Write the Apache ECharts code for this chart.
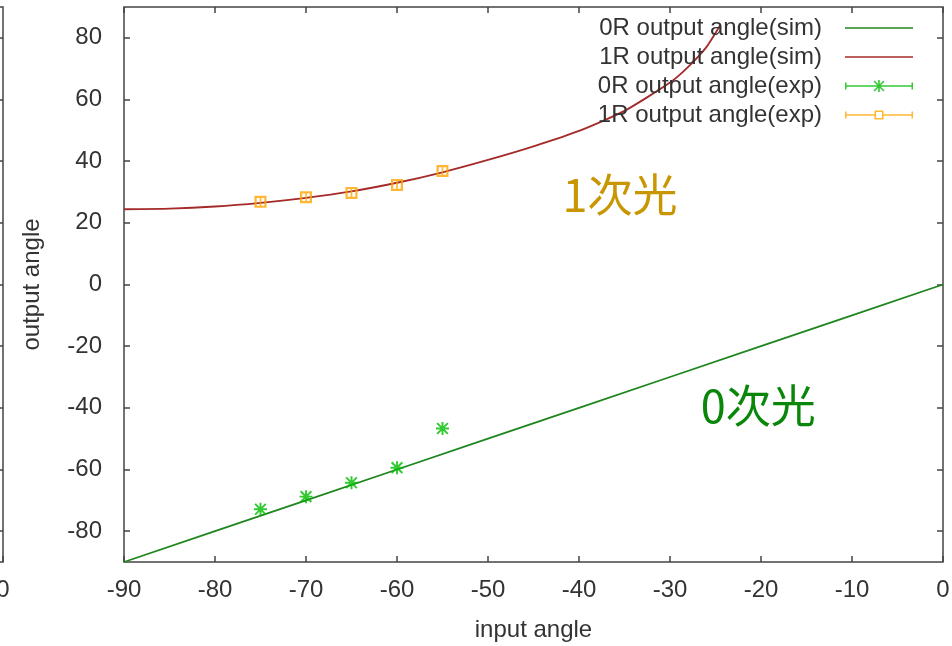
<!DOCTYPE html>
<html>
<head>
<meta charset="utf-8">
<script src="https://cdn.jsdelivr.net/npm/echarts@6/dist/echarts.min.js"></script>
<style>
  html, body { margin: 0; padding: 0; background: #ffffff; }
  #main { width: 952px; height: 646px; }
</style>
</head>
<body>
<div id="main"></div>
<script>
// Series names (legend order)
const seriesNames = [
  '0R output angle(sim)',
  '1R output angle(sim)',
  '0R output angle(exp)',
  '1R output angle(exp)'
];

// 0th-order reflection, simulated
const sim0X = [-90, -80, -70, -60, -50, -40, -30, -20, -10, 0];
const sim0Y = [-90, -80, -70, -60, -50, -40, -30, -20, -10, 0];

// 1st-order reflection, simulated
const sim1X = [-90, -85, -80, -75, -70, -65, -60, -55, -50, -45, -40, -35, -30, -28, -26, -24.5];
const sim1Y = [24.4, 24.6, 25.3, 26.5, 28.1, 30.2, 33.0, 36.4, 40.4, 44.8, 49.8, 56.3, 65.5, 70.6, 77.0, 84.0];

// Measured points
const expX  = [-75, -70, -65, -60, -55];
const exp0Y = [-72.9, -68.8, -64.3, -59.4, -46.7];
const exp1Y = [26.8, 28.3, 29.7, 32.3, 36.8];

// Axis ticks
const xTicks = [-90, -80, -70, -60, -50, -40, -30, -20, -10, 0];
const yTicks = [-80, -60, -40, -20, 0, 20, 40, 60, 80];

// Text annotations (data coordinates)
const annotations = [
  { text: '1次光', at: [-35.5, 28.9], color: '#c89600' },
  { text: '0次光', at: [-20.3, -39.3], color: '#0a870a' }
];

const colors = ['#1e861e', '#a52a2a', '#00bb00', '#ffa500'];
const FONT = '"Liberation Sans", Arial, sans-serif';
const FRAME = '#444444';

const pair = (xs, ys) => xs.map((x, i) => [x, ys[i]]);

// Marker shapes
const starPath = 'path://M5.1,0 H6.9 V12 H5.1 Z M0,5.1 H12 V6.9 H0 Z ' +
  'M0.4,1.7 L1.7,0.4 L11.6,10.3 L10.3,11.6 Z M10.3,0.4 L11.6,1.7 L1.7,11.6 L0.4,10.3 Z';
const boxPath = 'path://M0,0 H11 V11 H0 Z M2,2 V9 H9 V2 Z M4.75,2 H6.25 V9 H4.75 Z';

// Legend keys
const iconLine = 'path://M0,6.25 H68 V7.75 H0 Z';
const iconStarBar = 'path://M0,6.25 H68 V7.75 H0 Z M0,3.5 H1.5 V10.5 H0 Z M66.5,3.5 H68 V10.5 H66.5 Z ' +
  'M33.2,1 H34.8 V13 H33.2 Z M28,6.2 H40 V7.8 H28 Z ' +
  'M28.5,2.6 L29.6,1.5 L39.5,11.4 L38.4,12.5 Z M38.4,1.5 L39.5,2.6 L29.6,12.5 L28.5,11.4 Z';
const iconBoxBar = 'path://M0,6.25 H29.5 V7.75 H0 Z M38.5,6.25 H68 V7.75 H38.5 Z ' +
  'M0,3.5 H1.5 V10.5 H0 Z M66.5,3.5 H68 V10.5 H66.5 Z ' +
  'M29.5,2.5 H38.5 V11.5 H29.5 Z M31,4 V10 H37 V4 Z';

const labelStyle = { fontFamily: FONT, fontSize: 24, color: '#333333' };
const tickInside = { show: true, inside: true, length: 6, lineStyle: { color: FRAME, width: 1.5 } };
const noLine = { show: false, onZero: false };

const chart = echarts.init(document.getElementById('main'), null, { renderer: 'canvas' });

chart.setOption({
  animation: false,
  backgroundColor: '#ffffff',
  color: colors,
  grid: [
    { left: 124, right: 9, top: 7, bottom: 84, show: true, borderColor: FRAME, borderWidth: 1.5,
      backgroundColor: 'transparent', containLabel: false, outerBoundsMode: 'none' },
    { left: -300, width: 303, top: 7, bottom: 84, show: true, borderColor: FRAME, borderWidth: 1.5,
      backgroundColor: 'transparent', containLabel: false, outerBoundsMode: 'none' }
  ],
  xAxis: [
    {
      gridIndex: 0, type: 'value', position: 'bottom', min: -90, max: 0, interval: 10,
      axisLine: noLine, axisTick: tickInside, splitLine: { show: false },
      axisLabel: Object.assign({ margin: 16, customValues: xTicks }, labelStyle),
      name: 'input angle', nameLocation: 'middle', nameGap: 56,
      nameTextStyle: labelStyle
    },
    {
      gridIndex: 0, type: 'value', position: 'top', min: -90, max: 0, interval: 10,
      axisLine: noLine, axisTick: tickInside, splitLine: { show: false },
      axisLabel: { show: false }
    },
    {
      gridIndex: 1, type: 'value', position: 'bottom', min: -90, max: 0, interval: 10,
      axisLine: noLine, axisTick: tickInside, splitLine: { show: false },
      axisLabel: Object.assign({ margin: 16, customValues: xTicks }, labelStyle)
    }
  ],
  yAxis: [
    {
      gridIndex: 0, type: 'value', position: 'left', min: -90, max: 90,
      axisLine: noLine, splitLine: { show: false },
      axisTick: Object.assign({ customValues: yTicks }, tickInside),
      axisLabel: Object.assign({ margin: 22, customValues: yTicks }, labelStyle),
      name: 'output angle', nameLocation: 'middle', nameGap: 80,
      nameTextStyle: labelStyle
    },
    {
      gridIndex: 0, type: 'value', position: 'right', min: -90, max: 90,
      axisLine: noLine, splitLine: { show: false },
      axisTick: Object.assign({ customValues: yTicks }, tickInside),
      axisLabel: { show: false }
    },
    {
      gridIndex: 1, type: 'value', position: 'right', min: -90, max: 90,
      axisLine: noLine, splitLine: { show: false },
      axisTick: Object.assign({ customValues: yTicks }, tickInside),
      axisLabel: { show: false }
    }
  ],
  legend: {
    orient: 'vertical',
    right: 39,
    top: 16,
    align: 'right',
    padding: 0,
    itemWidth: 68,
    itemHeight: 14,
    itemGap: 5,
    selectedMode: false,
    itemStyle: { borderWidth: 0 },
    textStyle: Object.assign({ padding: [0, 18, 0, 0] }, labelStyle),
    data: [
      { name: seriesNames[0], icon: iconLine },
      { name: seriesNames[1], icon: iconLine },
      { name: seriesNames[2], icon: iconStarBar },
      { name: seriesNames[3], icon: iconBoxBar }
    ]
  },
  series: [
    {
      name: seriesNames[0], type: 'line', xAxisIndex: 0, yAxisIndex: 0,
      data: pair(sim0X, sim0Y), showSymbol: false, symbol: 'none',
      lineStyle: { color: colors[0], width: 1.8 }, itemStyle: { color: colors[0] }, z: 2
    },
    {
      name: seriesNames[1], type: 'line', xAxisIndex: 0, yAxisIndex: 0,
      data: pair(sim1X, sim1Y), showSymbol: false, symbol: 'none', smooth: 0.2,
      lineStyle: { color: colors[1], width: 1.8 }, itemStyle: { color: colors[1] }, z: 2
    },
    {
      name: seriesNames[2], type: 'scatter', xAxisIndex: 0, yAxisIndex: 0,
      data: pair(expX, exp0Y), symbol: starPath, symbolSize: 13,
      itemStyle: { color: colors[2] }, z: 3
    },
    {
      name: seriesNames[3], type: 'scatter', xAxisIndex: 0, yAxisIndex: 0,
      data: pair(expX, exp1Y), symbol: boxPath, symbolSize: 12,
      itemStyle: { color: colors[3] }, z: 3
    }
  ]
});

// Place the order labels at their data positions
chart.setOption({
  graphic: annotations.map(a => {
    const p = chart.convertToPixel({ seriesIndex: 0 }, a.at);
    return {
      type: 'text', x: p[0], y: p[1], z: 10,
      style: {
        text: a.text, fill: a.color,
        font: '45px "Noto Sans CJK JP", sans-serif',
        align: 'center', verticalAlign: 'middle'
      }
    };
  })
});
</script>
</body>
</html>
